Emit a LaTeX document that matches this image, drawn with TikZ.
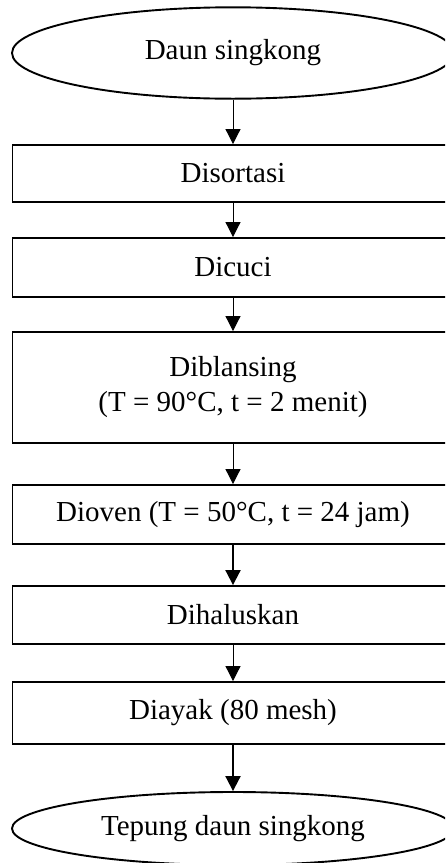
\documentclass[tikz,border=0pt]{standalone}
\usepackage{fontspec}
\setmainfont{Liberation Serif}
\usetikzlibrary{shapes.geometric,arrows.meta}
\begin{document}
\begin{tikzpicture}[x=1pt,y=-1pt,
  every node/.style={font=\fontsize{29}{35}\selectfont},
  stepbox/.style={draw,line width=1.9pt,rectangle,minimum width=441pt,inner sep=0pt,align=center},
  endcap/.style={draw,line width=1.9pt,ellipse,minimum width=442pt,inner sep=0pt},
  flow/.style={line width=1pt,-{Triangle[width=15pt,length=15pt]}},
  flowbold/.style={line width=2pt,-{Triangle[width=15pt,length=15pt]}}]
\useasboundingbox (0,0) rectangle (445,863);
\clip (0,0) rectangle (445,863);
\node[endcap,minimum height=91.4pt] (a) at (233,53) {Daun singkong};
\node[stepbox,minimum height=57pt] (b) at (233,173.5) {Disortasi};
\node[stepbox,minimum height=59pt] (c) at (233,267.5) {Dicuci};
\node[stepbox,minimum height=111pt] (d) at (233,387.5) {Diblansing\\(T = 90°C, t = 2 menit)};
\node[stepbox,minimum height=59pt] (e) at (233,514.5) {Dioven (T = 50°C, t = 24 jam)};
\node[stepbox,minimum height=58pt] (f) at (233,615) {Dihaluskan};
\node[stepbox,minimum height=62pt] (g) at (233,713) {Diayak (80 mesh)};
\node[endcap,minimum height=73pt] (h) at (233,828.5) {Tepung daun singkong};
\draw[flow] (a) -- (b);
\draw[flow] (b) -- (c);
\draw[flow] (c) -- (d);
\draw[flow] (d) -- (e);
\draw[flowbold] (e) -- (f);
\draw[flow] (f) -- (g);
\draw[flowbold] (g) -- (h);
\end{tikzpicture}
\end{document}
